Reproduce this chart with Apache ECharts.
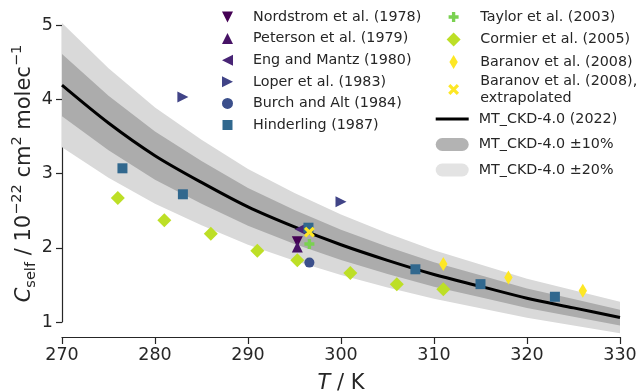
<!DOCTYPE html>
<html>
<head>
<meta charset="utf-8">
<script src="https://cdn.jsdelivr.net/npm/echarts@6/dist/echarts.min.js"></script>
<style>
  html, body { margin: 0; padding: 0; background: #ffffff; }
  #chart { width: 639px; height: 391px; }
</style>
</head>
<body>
<div id="chart"></div>
<script>
// Temperature grid of the MT_CKD-4.0 self-continuum curve (K)
const modelT = [270, 275, 280, 285, 290, 295, 300, 305, 310, 315, 320, 325, 330];
// MT_CKD-4.0 (2022) self-continuum coefficient (1e-22 cm^2 molec^-1)
const modelC = [4.19, 3.68, 3.24, 2.88, 2.55, 2.28, 2.04, 1.83, 1.64, 1.48, 1.32, 1.19, 1.06];

// Measurements: [T (K), C_self]
const nordstrom = [[295.3, 2.08]];
const peterson = [[295.3, 2.01]];
const engMantz = [[295.6, 2.25]];
const loper = [[283.0, 4.03], [300.0, 2.62]];
const burchAlt = [[296.6, 1.80]];
const hinderling = [[276.5, 3.07], [283.0, 2.72], [296.5, 2.27], [308.0, 1.71], [315.0, 1.51], [323.0, 1.34]];
const taylor = [[296.6, 2.05]];
const cormier = [[276.0, 2.67], [281.0, 2.37], [286.0, 2.19], [291.0, 1.96], [295.3, 1.83], [301.0, 1.66], [306.0, 1.51], [311.0, 1.44]];
const baranov = [[311.0, 1.78], [318.0, 1.60], [326.0, 1.42]];
const baranovExtrap = [[296.6, 2.21]];

const xTicks = [270, 280, 290, 300, 310, 320, 330];
const yTicks = [1, 2, 3, 4, 5];

const TEXT = '#262626';
const FONT = 'DejaVu Sans';

// Marker shapes (the leading moves pad the box so glyph sizes stay consistent)
const TRI_DOWN = 'path://M0,0L2,0L1,2Z';
const TRI_UP = 'path://M1,0L2,2L0,2Z';
const TRI_LEFT = 'path://M2,0L2,2L0,1Z';
const TRI_RIGHT = 'path://M0,0L2,1L0,2Z';
const SQUARE = 'path://M0,0M11,11M0.5,0.5H10.5V10.5H0.5Z';
const PLUS = 'path://M0,0M16,16M6.33,3H9.67V6.33H13V9.67H9.67V13H6.33V9.67H3V6.33H6.33Z';
const DIAMOND = 'path://M0,0M16,16M8,1L15,8L8,15L1,8Z';
const THIN_DIAMOND = 'path://M0,0M16,16M8,1L12.2,8L8,15L3.8,8Z';
const XMARK = 'path://M0,0M16,16M2.54,4.82L11.18,13.46L13.46,11.18L4.82,2.54ZM4.82,13.46L13.46,4.82L11.18,2.54L2.54,11.18Z';
const PILL = 'path://M6.5,0H26.5A6.5,6.5,0,0,1,26.5,13H6.5A6.5,6.5,0,0,1,6.5,0Z';
const LINE_ICON = 'path://M0,0M33,13M0,5H33V8H0Z';

// Band edges: ±10 % and ±20 % around the model curve
const pts = (arr) => modelT.map((t, i) => [t, arr[i]]);
const lo20 = modelC.map(v => v * 0.8);
const hi20 = modelC.map(v => v * 1.2);
const lo10 = modelC.map(v => v * 0.9);
const hi10 = modelC.map(v => v * 1.1);

function scatter(name, data, symbol, size, color) {
  return {
    name, type: 'scatter', data, symbol, symbolSize: size,
    itemStyle: { color, opacity: 1 },
    clip: false, z: 5
  };
}

// Filled band between two curves, drawn as one polygon in data coordinates
function band(name, lo, hi, color, z) {
  return {
    name, type: 'custom', data: pts(hi), z, clip: false, silent: true,
    itemStyle: { color },
    renderItem: (params, api) => {
      if (params.dataIndex !== 0) return null;
      const upper = modelT.map((t, i) => api.coord([t, hi[i]]));
      const lower = modelT.map((t, i) => api.coord([t, lo[i]])).reverse();
      return {
        type: 'polygon',
        shape: { points: upper.concat(lower) },
        style: { fill: color, stroke: null }
      };
    }
  };
}

const legendText = { color: TEXT, fontFamily: FONT, fontSize: 14.3, lineHeight: 17 };

const chart = echarts.init(document.getElementById('chart'), null, { renderer: 'canvas' });
chart.setOption({
  animation: false,
  backgroundColor: '#ffffff',
  textStyle: { fontFamily: FONT },
  grid: { left: 62, right: 19, top: 25, bottom: 69, containLabel: false, outerBoundsMode: 'none' },
  xAxis: {
    type: 'value', min: xTicks[0], max: xTicks[xTicks.length - 1], interval: 10,
    offset: 15,
    name: '{i|T}{n| / K}', nameLocation: 'middle', nameGap: 36,
    nameTextStyle: { color: TEXT, rich: {
      i: { fontSize: 21, fontStyle: 'italic', color: TEXT, fontFamily: FONT },
      n: { fontSize: 21, color: TEXT, fontFamily: FONT } } },
    axisLine: { show: true, lineStyle: { color: TEXT, width: 1.2 } },
    axisTick: { show: true, length: 7, lineStyle: { color: TEXT, width: 1.2 } },
    axisLabel: { color: TEXT, fontSize: 17.5, margin: 9, fontFamily: FONT },
    splitLine: { show: false }
  },
  yAxis: {
    type: 'value', min: yTicks[0], max: yTicks[yTicks.length - 1], interval: 1,
    name: '{i|C}{sub|self}{n| / 10}{sup|−22}{n| cm}{sup|2}{n| molec}{sup|−1}',
    nameLocation: 'middle', nameRotate: 90, nameGap: 22, nameMoveOverlap: false,
    nameTextStyle: { color: TEXT, rich: {
      i: { fontSize: 21, fontStyle: 'italic', color: TEXT, fontFamily: FONT, lineHeight: 30, verticalAlign: 'middle' },
      n: { fontSize: 21, color: TEXT, fontFamily: FONT, lineHeight: 30, verticalAlign: 'middle' },
      sub: { fontSize: 14.5, color: TEXT, fontFamily: FONT, lineHeight: 15, verticalAlign: 'bottom', padding: [0, 0, 1, 0] },
      sup: { fontSize: 14.5, color: TEXT, fontFamily: FONT, lineHeight: 15, verticalAlign: 'top' } } },
    axisLine: { show: true, lineStyle: { color: TEXT, width: 1.2 } },
    axisTick: { show: true, length: 6, lineStyle: { color: TEXT, width: 1.2 } },
    axisLabel: { color: TEXT, fontSize: 17.5, margin: 9, fontFamily: FONT },
    splitLine: { show: false }
  },
  legend: [
    {
      orient: 'vertical', left: 217, top: 3.5, itemWidth: 41, itemHeight: 11, itemGap: 4.6,
      textStyle: legendText,
      data: ['Nordstrom et al. (1978)', 'Peterson et al. (1979)', 'Eng and Mantz (1980)',
             'Loper et al. (1983)', 'Burch and Alt (1984)', 'Hinderling (1987)']
    },
    {
      orient: 'vertical', left: 440.6, top: 3.5, itemWidth: 43.4, itemHeight: 16, itemGap: 5.5,
      textStyle: legendText,
      data: ['Taylor et al. (2003)', 'Cormier et al. (2005)', 'Baranov et al. (2008)']
    },
    {
      orient: 'vertical', left: 440.6, top: 67.5, itemWidth: 43.4, itemHeight: 16, itemGap: 0,
      textStyle: legendText,
      data: ['Baranov et al. (2008),\nextrapolated']
    },
    {
      orient: 'vertical', left: 430.7, top: 105.5, itemWidth: 33, itemHeight: 13, itemGap: 8.5,
      symbolKeepAspect: false,
      textStyle: Object.assign({ padding: [0, 0, 0, 5] }, legendText),
      data: [
        { name: 'MT_CKD-4.0 (2022)', icon: LINE_ICON, itemStyle: { color: '#000000', borderWidth: 0 } },
        { name: 'MT_CKD-4.0 ±10%', icon: PILL, itemStyle: { color: '#b3b3b3', borderWidth: 0 } },
        { name: 'MT_CKD-4.0 ±20%', icon: PILL, itemStyle: { color: '#e3e3e3', borderWidth: 0 } }
      ]
    }
  ],
  series: [
    band('MT_CKD-4.0 ±20%', lo20, hi20, '#d9d9d9', 1),
    band('MT_CKD-4.0 ±10%', lo10, hi10, '#acacac', 2),
    {
      name: 'MT_CKD-4.0 (2022)', type: 'line', data: pts(modelC), symbol: 'none',
      smooth: 0.3, lineStyle: { color: '#000000', width: 3 }, itemStyle: { color: '#000000' },
      clip: false, z: 3
    },
    scatter('Nordstrom et al. (1978)', nordstrom, TRI_DOWN, 11, '#440154'),
    scatter('Peterson et al. (1979)', peterson, TRI_UP, 11, '#471366'),
    scatter('Eng and Mantz (1980)', engMantz, TRI_LEFT, 11, '#482475'),
    scatter('Loper et al. (1983)', loper, TRI_RIGHT, 11, '#414487'),
    scatter('Burch and Alt (1984)', burchAlt, 'circle', 10, '#3b4f8b'),
    scatter('Hinderling (1987)', hinderling, SQUARE, 11, '#31688e'),
    scatter('Taylor et al. (2003)', taylor, PLUS, 16, '#7ad151'),
    scatter('Cormier et al. (2005)', cormier, DIAMOND, 16, '#bddf26'),
    scatter('Baranov et al. (2008)', baranov, THIN_DIAMOND, 16, '#fde725'),
    scatter('Baranov et al. (2008),\nextrapolated', baranovExtrap, XMARK, 16, '#fde725')
  ]
});
</script>
</body>
</html>
